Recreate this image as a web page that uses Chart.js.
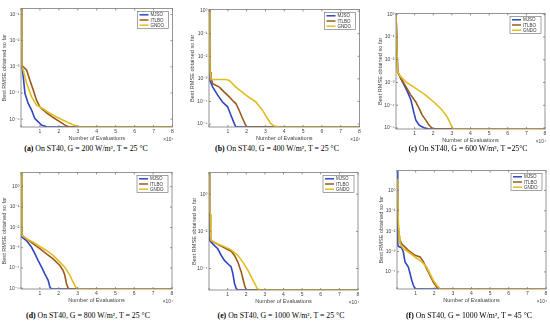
<!DOCTYPE html>
<html><head><meta charset="utf-8">
<script src="https://cdn.jsdelivr.net/npm/chart.js@4"></script>
<style>
body{margin:0;background:#fff;width:550px;height:327px;overflow:hidden;position:relative}
.pc{position:absolute}
.cap{position:absolute;font-family:"Liberation Serif","DejaVu Serif",serif;font-size:7.8px;white-space:nowrap;transform:translateX(-50%);color:#000;line-height:9px}
</style></head><body>
<script>
// ---- series names ----
const SERIES = ['MJSO', 'ITLBO', 'GNDO'];
const X_TICKS = [0, 10000, 20000, 30000, 40000, 50000, 60000, 70000, 80000];

// ---- (a) G = 200 W/m2, T = 25 C ----
const A_MJSO_X = [0, 400, 1200, 2100, 3800, 5600, 7300, 9100, 10800, 13500, 15300, 80000];
const A_MJSO_Y = [0.17, 1.14e-3, 4.1e-4, 9.5e-5, 4.0e-5, 2.2e-5, 1.06e-5, 7.9e-6, 5.9e-6, 5.1e-6, 5.0e-6, 5.0e-6];
const A_ITLBO_X = [0, 400, 3000, 4700, 6500, 8200, 10000, 13500, 17000, 20600, 24100, 25900, 80000];
const A_ITLBO_Y = [0.17, 1.14e-3, 7.4e-4, 3.1e-4, 1.26e-4, 5.3e-5, 2.9e-5, 1.75e-5, 1.15e-5, 7.9e-6, 5.4e-6, 5.0e-6, 5.0e-6];
const A_GNDO_X = [0, 400, 1200, 3000, 5600, 8200, 11700, 13500, 17000, 22300, 26800, 31000, 80000];
const A_GNDO_Y = [0.17, 1.14e-3, 7.4e-4, 2.3e-4, 7.1e-5, 3.4e-5, 2.5e-5, 2.0e-5, 1.4e-5, 9.1e-6, 6.4e-6, 5.0e-6, 5.0e-6];
const A_TICKS = [1e-1, 1e-2, 1e-3, 1e-4, 1e-5];

// ---- (b) G = 400 W/m2, T = 25 C ----
const B_MJSO_X = [0, 500, 2000, 4600, 7200, 9900, 11600, 13400, 14300, 80000];
const B_MJSO_Y = [1.18, 8.5e-4, 4.3e-4, 1.9e-4, 9.5e-5, 5.8e-5, 2.5e-5, 1.07e-5, 7.4e-6, 7.4e-6];
const B_ITLBO_X = [0, 600, 1000, 2000, 5500, 8100, 10800, 12500, 14300, 16000, 17800, 19200, 20100, 80000];
const B_ITLBO_Y = [1.18, 2.0e-3, 1.2e-3, 6.1e-4, 4.3e-4, 2.6e-4, 1.6e-4, 1.1e-4, 8.1e-5, 4.1e-5, 1.8e-5, 1.0e-5, 7.4e-6, 7.4e-6];
const B_GNDO_X = [0, 500, 1000, 9000, 10800, 14300, 19600, 24900, 28400, 31000, 32800, 34600, 37200, 80000];
const B_GNDO_Y = [1.18, 2.0e-3, 9.4e-4, 9.4e-4, 8.5e-4, 4.3e-4, 1.9e-4, 9.5e-5, 4.1e-5, 1.8e-5, 1.07e-5, 8.2e-6, 7.4e-6, 7.4e-6];
const B_TICKS = [1e0, 1e-1, 1e-2, 1e-3, 1e-4, 1e-5];

// ---- (c) G = 600 W/m2, T = 25 C ----
const C_MJSO_X = [0, 900, 3500, 6200, 8000, 9700, 10600, 12400, 15000, 17700, 80000];
const C_MJSO_Y = [1.07, 2.9e-3, 1.07e-3, 3.9e-4, 1.7e-4, 4.4e-5, 2.3e-5, 1.35e-5, 1.03e-5, 9.1e-6, 9.1e-6];
const C_ITLBO_X = [0, 900, 2700, 5300, 8000, 10600, 12400, 14100, 15900, 17700, 19400, 20300, 80000];
const C_ITLBO_Y = [1.07, 2.9e-3, 1.5e-3, 6.5e-4, 2.8e-4, 1.4e-4, 7.3e-5, 3.7e-5, 2.3e-5, 1.35e-5, 9.8e-6, 9.1e-6, 9.1e-6];
const C_GNDO_X = [0, 900, 1800, 5300, 10600, 15900, 21200, 24700, 27400, 29200, 30400, 31500, 80000];
const C_GNDO_Y = [1.07, 2.9e-3, 2.1e-3, 1.07e-3, 5.5e-4, 2.8e-4, 1.2e-4, 6.2e-5, 3.2e-5, 1.6e-5, 9.8e-6, 9.1e-6, 9.1e-6];
const C_TICKS = [1e0, 1e-1, 1e-2, 1e-3, 1e-4, 1e-5];

// ---- (d) G = 800 W/m2, T = 25 C ----
const D_MJSO_X = [0, 500, 3000, 5600, 7400, 9100, 10900, 12600, 14400, 15300, 16200, 80000];
const D_MJSO_Y = [5.0, 3.3e-3, 2.2e-3, 1.05e-3, 5.0e-4, 2.3e-4, 1.1e-4, 5.2e-5, 2.5e-5, 1.15e-5, 9.3e-6, 9.3e-6];
const D_ITLBO_X = [0, 500, 3000, 6500, 10000, 13500, 17000, 20600, 22300, 23200, 24100, 25000, 25900, 80000];
const D_ITLBO_Y = [5.0, 4.0e-3, 2.7e-3, 1.55e-3, 8.9e-4, 5.0e-4, 2.8e-4, 1.34e-4, 7.6e-5, 4.4e-5, 1.7e-5, 1.0e-5, 9.3e-6, 9.3e-6];
const D_GNDO_X = [0, 500, 3000, 6500, 10000, 13500, 17000, 20600, 23200, 25900, 27600, 29000, 30300, 80000];
const D_GNDO_Y = [5.0, 4.0e-3, 2.7e-3, 1.87e-3, 1.15e-3, 7.3e-4, 4.2e-4, 1.95e-4, 1.1e-4, 4.4e-5, 2.0e-5, 1.15e-5, 9.3e-6, 9.3e-6];
const D_TICKS = [1e0, 1e-1, 1e-2, 1e-3, 1e-4, 1e-5];

// ---- (e) G = 1000 W/m2, T = 25 C ----
const E_MJSO_X = [0, 300, 2000, 4700, 6600, 8300, 10100, 11900, 12800, 13700, 14600, 15500, 80000];
const E_MJSO_Y = [14.8, 3.2e-3, 2.1e-3, 1.15e-3, 5.0e-4, 2.7e-4, 1.8e-4, 1.2e-4, 5.3e-5, 1.55e-5, 8.3e-6, 6.9e-6, 6.9e-6];
const E_ITLBO_X = [0, 300, 600, 800, 1000, 4700, 8300, 11900, 13700, 15500, 17300, 18200, 19100, 20000, 80000];
const E_ITLBO_Y = [14.8, 0.13, 0.087, 4.8e-3, 3.2e-3, 2.0e-3, 1.3e-3, 8.5e-4, 5.0e-4, 2.2e-4, 6.5e-5, 2.8e-5, 1.24e-5, 6.9e-6, 6.9e-6];
const E_GNDO_X = [0, 300, 700, 900, 1200, 4700, 8300, 11900, 15500, 18200, 20900, 22700, 24500, 25900, 27200, 80000];
const E_GNDO_Y = [14.8, 0.13, 0.087, 4.8e-3, 3.2e-3, 2.1e-3, 1.5e-3, 1.0e-3, 5.0e-4, 2.2e-4, 7.9e-5, 3.5e-5, 1.55e-5, 8.3e-6, 6.9e-6, 6.9e-6];
const E_TICKS = [1e0, 1e-2, 1e-4];

// ---- (f) G = 1000 W/m2, T = 45 C ----
const F_MJSO_X = [0, 400, 700, 2500, 3400, 4300, 6100, 7000, 7900, 8800, 9700, 11500, 80000];
const F_MJSO_Y = [9.5, 2.4e-3, 1.8e-3, 1.55e-3, 9.5e-4, 3.1e-4, 1.74e-4, 8.3e-5, 3.9e-5, 2.2e-5, 1.5e-5, 1.45e-5, 1.45e-5];
const F_ITLBO_X = [0, 700, 1300, 2500, 6100, 9700, 12400, 14200, 15900, 17700, 19500, 21300, 23100, 80000];
const F_ITLBO_Y = [3.1, 0.016, 4.3e-3, 2.4e-3, 1.15e-3, 6.5e-4, 5.4e-4, 3.1e-4, 1.45e-4, 6.8e-5, 3.2e-5, 1.8e-5, 1.45e-5, 1.45e-5];
const F_GNDO_X = [0, 400, 700, 1100, 1600, 3400, 6100, 9700, 13300, 15900, 17700, 19500, 21300, 23100, 24000, 80000];
const F_GNDO_Y = [3.7, 0.69, 0.034, 6.2e-3, 2.4e-3, 1.38e-3, 9.5e-4, 5.4e-4, 3.1e-4, 1.74e-4, 8.3e-5, 3.9e-5, 2.2e-5, 1.5e-5, 1.45e-5, 1.45e-5];
const F_TICKS = [1e0, 1e-1, 1e-2, 1e-3, 1e-4];

// ---- styles ----
const COLORS = {MJSO: '#3146c2', ITLBO: '#9b5a1d', GNDO: '#e2bd22'};
const AXIS_COLOR = '#7a7a7a';
const SANS = '"Liberation Sans","DejaVu Sans",Arial,sans-serif';

const PANELS = [
  {L: 21, R: 172.5, T: 8, B: 127, aw: 20, yMin: 5.0e-6, yMax: 0.17, ticks: A_TICKS,
   s: [[A_MJSO_X, A_MJSO_Y], [A_ITLBO_X, A_ITLBO_Y], [A_GNDO_X, A_GNDO_Y]],
   cap: '<b>(a)</b> On ST40, G = 200 W/m², T = 25 °C', cx: 86, cy: 143.5},
  {L: 208.5, R: 359, T: 9, B: 127, aw: 20, yMin: 7.4e-6, yMax: 1.18, ticks: B_TICKS,
   s: [[B_MJSO_X, B_MJSO_Y], [B_ITLBO_X, B_ITLBO_Y], [B_GNDO_X, B_GNDO_Y]],
   cap: '<b>(b)</b> On ST40, G = 400 W/m², T = 25 °C', cx: 277, cy: 143.5},
  {L: 396, R: 545, T: 13, B: 129, aw: 19, yMin: 9.1e-6, yMax: 1.07, ticks: C_TICKS,
   s: [[C_MJSO_X, C_MJSO_Y], [C_ITLBO_X, C_ITLBO_Y], [C_GNDO_X, C_GNDO_Y]],
   cap: '<b>(c)</b> On ST40, G = 600 W/m², T =25°C', cx: 468, cy: 143.5},
  {L: 21, R: 172, T: 172, B: 289, aw: 20, yMin: 9.3e-6, yMax: 5.0, ticks: D_TICKS,
   s: [[D_MJSO_X, D_MJSO_Y], [D_ITLBO_X, D_ITLBO_Y], [D_GNDO_X, D_GNDO_Y]],
   cap: '<b>(d)</b> On ST40, G = 800 W/m², T = 25 °C', cx: 88, cy: 311},
  {L: 209, R: 358, T: 172, B: 290, aw: 18, yMin: 6.9e-6, yMax: 14.8, ticks: E_TICKS,
   s: [[E_MJSO_X, E_MJSO_Y], [E_ITLBO_X, E_ITLBO_Y], [E_GNDO_X, E_GNDO_Y]],
   cap: '<b>(e)</b> On ST40, G = 1000 W/m², T = 25 °C', cx: 281, cy: 311},
  {L: 397, R: 546, T: 170, B: 289, aw: 19, yMin: 1.45e-5, yMax: 9.5, ticks: F_TICKS,
   s: [[F_MJSO_X, F_MJSO_Y], [F_ITLBO_X, F_ITLBO_Y], [F_GNDO_X, F_GNDO_Y]],
   cap: '<b>(f)</b> On ST40, G = 1000 W/m², T = 45 °C', cx: 469, cy: 311}
];

const SUP = {'-': '⁻', '0': '⁰', '1': '¹', '2': '²', '3': '³', '4': '⁴', '5': '⁵', '6': '⁶', '7': '⁷', '8': '⁸', '9': '⁹'};
function pow10Label(v) {
  const e = Math.round(Math.log10(v));
  return '10' + String(e).split('').map(c => SUP[c]).join('');
}

const framePlugin = {
  id: 'frame',
  afterDraw(chart) {
    const ctx = chart.ctx, a = chart.chartArea;
    const xs = chart.scales.x, ys = chart.scales.y;
    ctx.save();
    ctx.strokeStyle = AXIS_COLOR;
    ctx.lineWidth = 0.8;
    ctx.strokeRect(a.left, a.top, a.right - a.left, a.bottom - a.top);
    // inward ticks
    ctx.beginPath();
    xs.ticks.forEach(t => {
      const px = xs.getPixelForValue(t.value);
      ctx.moveTo(px, a.bottom); ctx.lineTo(px, a.bottom - 2);
      ctx.moveTo(px, a.top); ctx.lineTo(px, a.top + 2);
    });
    ys.ticks.forEach(t => {
      const py = ys.getPixelForValue(t.value);
      ctx.moveTo(a.left, py); ctx.lineTo(a.left + 2, py);
      ctx.moveTo(a.right, py); ctx.lineTo(a.right - 2, py);
    });
    ctx.stroke();
    // x exponent label
    ctx.fillStyle = '#444';
    ctx.font = '4.8px ' + SANS;
    ctx.textAlign = 'right';
    ctx.textBaseline = 'middle';
    ctx.fillText('×10⁴', a.right + 1, a.bottom + 13);
    // legend box
    const w = 31, h = 17;
    const lx = a.right - 4 - w, ly = a.top + 3;
    ctx.fillStyle = '#fff';
    ctx.fillRect(lx, ly, w, h);
    ctx.strokeStyle = '#666';
    ctx.lineWidth = 0.6;
    ctx.strokeRect(lx, ly, w, h);
    ctx.font = '4.5px ' + SANS;
    ctx.textAlign = 'left';
    SERIES.forEach((name, i) => {
      const ds = chart.data.datasets.find(d => d.label === name);
      const yy = ly + 3.3 + i * 5.2;
      ctx.strokeStyle = ds.borderColor;
      ctx.lineWidth = 1.5;
      ctx.beginPath(); ctx.moveTo(lx + 2, yy); ctx.lineTo(lx + 11, yy); ctx.stroke();
      ctx.fillStyle = '#333';
      ctx.fillText(name, lx + 13, yy + 0.3);
    });
    ctx.restore();
  }
};

PANELS.forEach(p => {
  const left = p.L - p.aw, top = p.T - 4;
  const width = Math.round(p.R - left + 5), height = Math.round(p.B - top + 16);
  const div = document.createElement('div');
  div.className = 'pc';
  div.style.left = left + 'px'; div.style.top = top + 'px';
  div.style.width = width + 'px'; div.style.height = height + 'px';
  const cv = document.createElement('canvas');
  cv.width = width; cv.height = height;
  cv.style.width = width + 'px'; cv.style.height = height + 'px';
  div.appendChild(cv);
  document.body.appendChild(div);

  const datasets = SERIES.map((name, i) => ({
    label: name,
    data: p.s[i][0].map((x, k) => ({x: x, y: p.s[i][1][k]})),
    borderColor: COLORS[name],
    backgroundColor: COLORS[name],
    borderWidth: 1.6,
    pointRadius: 0,
    tension: 0,
    fill: false,
    order: 3 - i
  }));

  new Chart(cv, {
    type: 'line',
    data: {datasets},
    options: {
      responsive: false, animation: false,
      layout: {padding: {left: 0, top: 4, right: width - (p.R - left), bottom: 0}},
      plugins: {legend: {display: false}, tooltip: {enabled: false}},
      scales: {
        x: {
          type: 'linear', min: 0, max: 80000,
          afterFit(s) { s.height = 16; },
          afterBuildTicks(s) { s.ticks = X_TICKS.map(v => ({value: v})); },
          grid: {display: false, drawTicks: false},
          border: {display: false},
          ticks: {padding: 2, autoSkip: false, maxRotation: 0, color: '#444',
                  font: {size: 5, family: SANS},
                  callback: v => v === 0 ? '' : String(v / 10000)},
          title: {display: true, text: 'Number of Evaluations', color: '#444',
                  font: {size: 5.6, family: SANS}, padding: {top: 0, bottom: 1.5}}
        },
        y: {
          type: 'logarithmic', min: p.yMin, max: p.yMax,
          afterFit(s) { s.width = p.aw; },
          afterBuildTicks(s) { s.ticks = p.ticks.map(v => ({value: v})); },
          grid: {display: false, drawTicks: false},
          border: {display: false},
          ticks: {padding: 1.5, autoSkip: false, color: '#444',
                  font: {size: 5, family: SANS},
                  callback: v => pow10Label(v)},
          title: {display: true, text: 'Best RMSE obtained so far', color: '#444',
                  font: {size: 5.6, family: SANS}, padding: {top: 0.5, bottom: 0}}
        }
      }
    },
    plugins: [framePlugin]
  });

  const cap = document.createElement('div');
  cap.className = 'cap';
  cap.style.left = p.cx + 'px';
  cap.style.top = p.cy + 'px';
  cap.innerHTML = p.cap;
  document.body.appendChild(cap);
});
</script>
</body></html>
